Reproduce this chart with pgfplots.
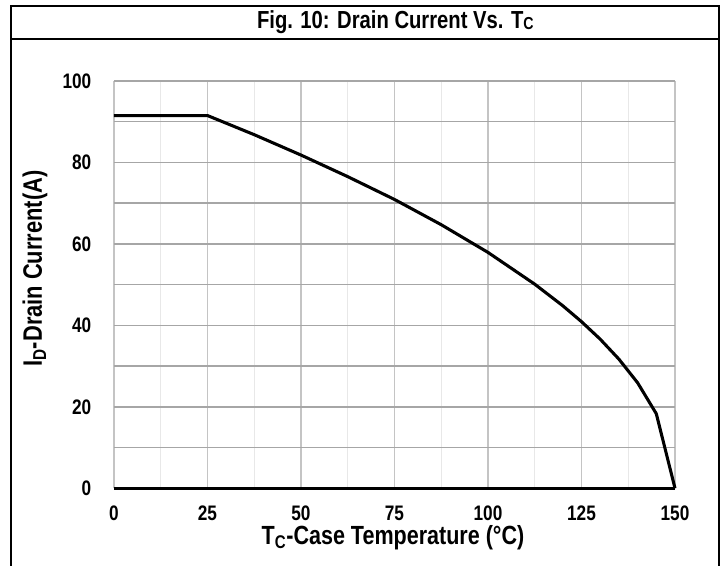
\documentclass[border=0pt]{standalone}
\usepackage{fontspec}
\setmainfont{Liberation Sans}[FakeStretch=0.82]
\usepackage{pgfplots}
\pgfplotsset{compat=1.18}
\definecolor{gmaj}{HTML}{A6A6A6}
\definecolor{gvx}{HTML}{C4C4C4}
\definecolor{gmin}{HTML}{E8E8E8}
\begin{document}
\begin{tikzpicture}[x=1pt,y=1pt]
\path[use as bounding box] (0,0) rectangle (544.5,424.5);
\draw[line width=1.6pt] (8.25,-2) rectangle (539.25,420);
\draw[line width=1.6pt] (8.25,395.25) -- (539.25,395.25);
\node[font=\bfseries\fontsize{18.5}{21}\selectfont] at (296.5,407.5) {Fig. 10: Drain Current Vs. T{\fontsize{13}{15}\selectfont\raisebox{-0.6pt}{C}}};
\begin{axis}[
  at={(85.5pt,58.3pt)}, anchor=origin,
  scale only axis, width=420.75pt, height=305.5pt,
  xmin=0, xmax=150, ymin=0, ymax=100,
  axis line style={draw=none},
  major tick length=0pt, minor tick length=0pt,
  xtick={0,25,50,75,100,125,150},
  minor xtick={12.5,37.5,62.5,87.5,112.5,137.5},
  ytick={0,20,40,60,80,100},
  minor ytick={10,30,50,70,90},
  grid=both,
  major x grid style={gvx, line width=1.4pt},
  minor x grid style={gmin, line width=0.8pt},
  major y grid style={gmaj, line width=1.2pt},
  minor y grid style={gmaj, line width=1.2pt},
  /pgf/number format/assume math mode=true,
  ticklabel style={font=\bfseries\fontsize{15.75}{18}\selectfont},
  yticklabel style={xshift=-13.5pt},
  xticklabel style={yshift=-9.5pt},
  clip=false,
]
\draw[black, line width=2pt] (axis cs:0,0) -- (axis cs:150,0);
\addplot[black, line width=2.3pt, line join=round] coordinates {
(0,91.5) (25,91.5) (37.5,86.8) (50,81.8) (62.5,76.5) (75,70.9) (87.5,64.7)
(100,57.9) (112.5,50.1) (120,44.8) (125,40.9) (130,36.6) (135,31.7)
(140,25.9) (145,18.3) (150,0)
};
\end{axis}
\node[font=\bfseries\fontsize{19.7}{22}\selectfont] at (294.75,21) {T\textsubscript{C}-Case Temperature (°C)};
\node[font=\bfseries\fontsize{20}{22}\selectfont, rotate=90] at (26.25,223) {I\textsubscript{D}-Drain Current(A)};
\end{tikzpicture}
\end{document}
